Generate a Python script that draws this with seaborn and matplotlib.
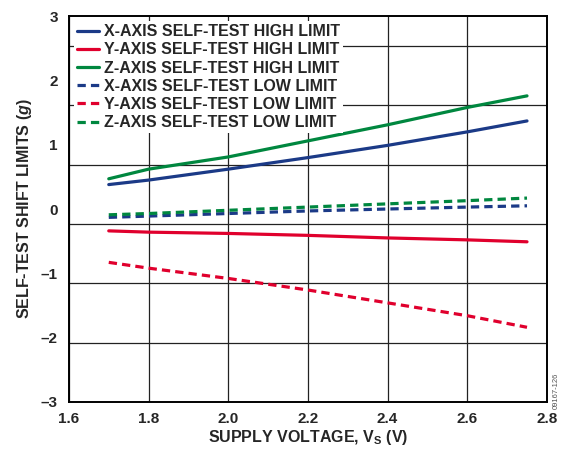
import numpy as np
import pandas as pd
import seaborn as sns
import matplotlib.pyplot as plt

# supply voltage (V)
vs = [1.7, 1.8, 2.0, 2.2, 2.4, 2.6, 2.75]

# self-test shift limits (g)
x_high = [0.38, 0.45, 0.62, 0.80, 0.99, 1.20, 1.37]
y_high = [-0.34, -0.36, -0.38, -0.41, -0.45, -0.48, -0.51]
z_high = [0.47, 0.62, 0.81, 1.06, 1.31, 1.58, 1.76]
x_low = [-0.13, -0.11, -0.07, -0.03, 0.00, 0.03, 0.05]
y_low = [-0.83, -0.92, -1.08, -1.26, -1.46, -1.66, -1.84]
z_low = [-0.09, -0.07, -0.02, 0.03, 0.08, 0.13, 0.17]

labels = ["X-AXIS SELF-TEST HIGH LIMIT", "Y-AXIS SELF-TEST HIGH LIMIT",
          "Z-AXIS SELF-TEST HIGH LIMIT", "X-AXIS SELF-TEST LOW LIMIT",
          "Y-AXIS SELF-TEST LOW LIMIT", "Z-AXIS SELF-TEST LOW LIMIT"]
series = [x_high, y_high, z_high, x_low, y_low, z_low]
colors = ["#1b3a87", "#e0002d", "#00873f", "#1b3a87", "#e0002d", "#00873f"]
styles = ["-", "-", "-", (0, (2.6, 1.6)), (0, (2.6, 1.6)), (0, (2.6, 1.6))]

sns.set_style("white")
plt.rcParams['font.family'] = ['Liberation Sans', 'DejaVu Sans']
plt.rcParams['font.weight'] = 'bold'
plt.rcParams['mathtext.fontset'] = 'custom'
plt.rcParams['mathtext.rm'] = 'Liberation Sans:bold'
plt.rcParams['mathtext.it'] = 'Liberation Sans:italic:bold'

fig = plt.figure(figsize=(5.65, 4.49), dpi=100)
ax = fig.add_axes([0.122, 0.105, 0.846, 0.859])

for lab, vals, c, ls in zip(labels, series, colors, styles):
    df = pd.DataFrame({"vs": vs, "val": vals})
    sns.lineplot(data=df, x="vs", y="val", ax=ax, color=c, linestyle=ls,
                 linewidth=2.3, label=lab)

ax.set_xlim(1.6, 2.8)
ax.set_ylim(-3, 3)
ax.set_xticks(np.arange(1.6, 2.81, 0.2))
ax.set_xticklabels(["1.6", "1.8", "2.0", "2.2", "2.4", "2.6", "2.8"])
ax.set_yticks(range(-3, 4))
ax.set_yticklabels(["\u20133", "\u20132", "\u20131", "0", "1", "2", "3"])
# horizontal grid lines in the original sit at 6.5 divisions
ax.set_yticks([-3 + k * 6 / 6.5 for k in range(1, 7)], minor=True)
ax.tick_params(axis='both', which='both', length=0, labelsize=11)
ax.tick_params(axis='x', pad=7)
ax.tick_params(axis='y', pad=8)
ax.grid(axis='x', which='major', color='#222222', linewidth=0.9)
ax.grid(axis='y', which='minor', color='#222222', linewidth=0.9)
ax.grid(axis='y', which='major', visible=False)
for s in ax.spines.values():
    s.set_linewidth(1.4)
    s.set_color('black')

ax.set_xlabel(r"SUPPLY VOLTAGE, V$_\mathrm{S}$ (V)", fontsize=11.5, fontweight='bold', labelpad=2)
ax.set_ylabel(r"SELF-TEST SHIFT LIMITS ($g$)", fontsize=11.5, fontweight='bold', labelpad=5)

leg = ax.legend(loc='upper left', fontsize=11.5, frameon=True, handlelength=1.4,
                handletextpad=0.3, labelspacing=0.2, borderpad=0.2,
                borderaxespad=0.3, fancybox=False)
leg.get_frame().set_edgecolor('none')
leg.get_frame().set_facecolor('white')
leg.get_frame().set_alpha(1)
for t in leg.get_texts():
    t.set_fontweight('bold')

fig.text(0.985, 0.13, "09167-126", rotation=90, fontsize=5.5, color='#555555',
         fontweight='normal', ha='center', va='center')

fig.savefig("out.png", dpi=100)
